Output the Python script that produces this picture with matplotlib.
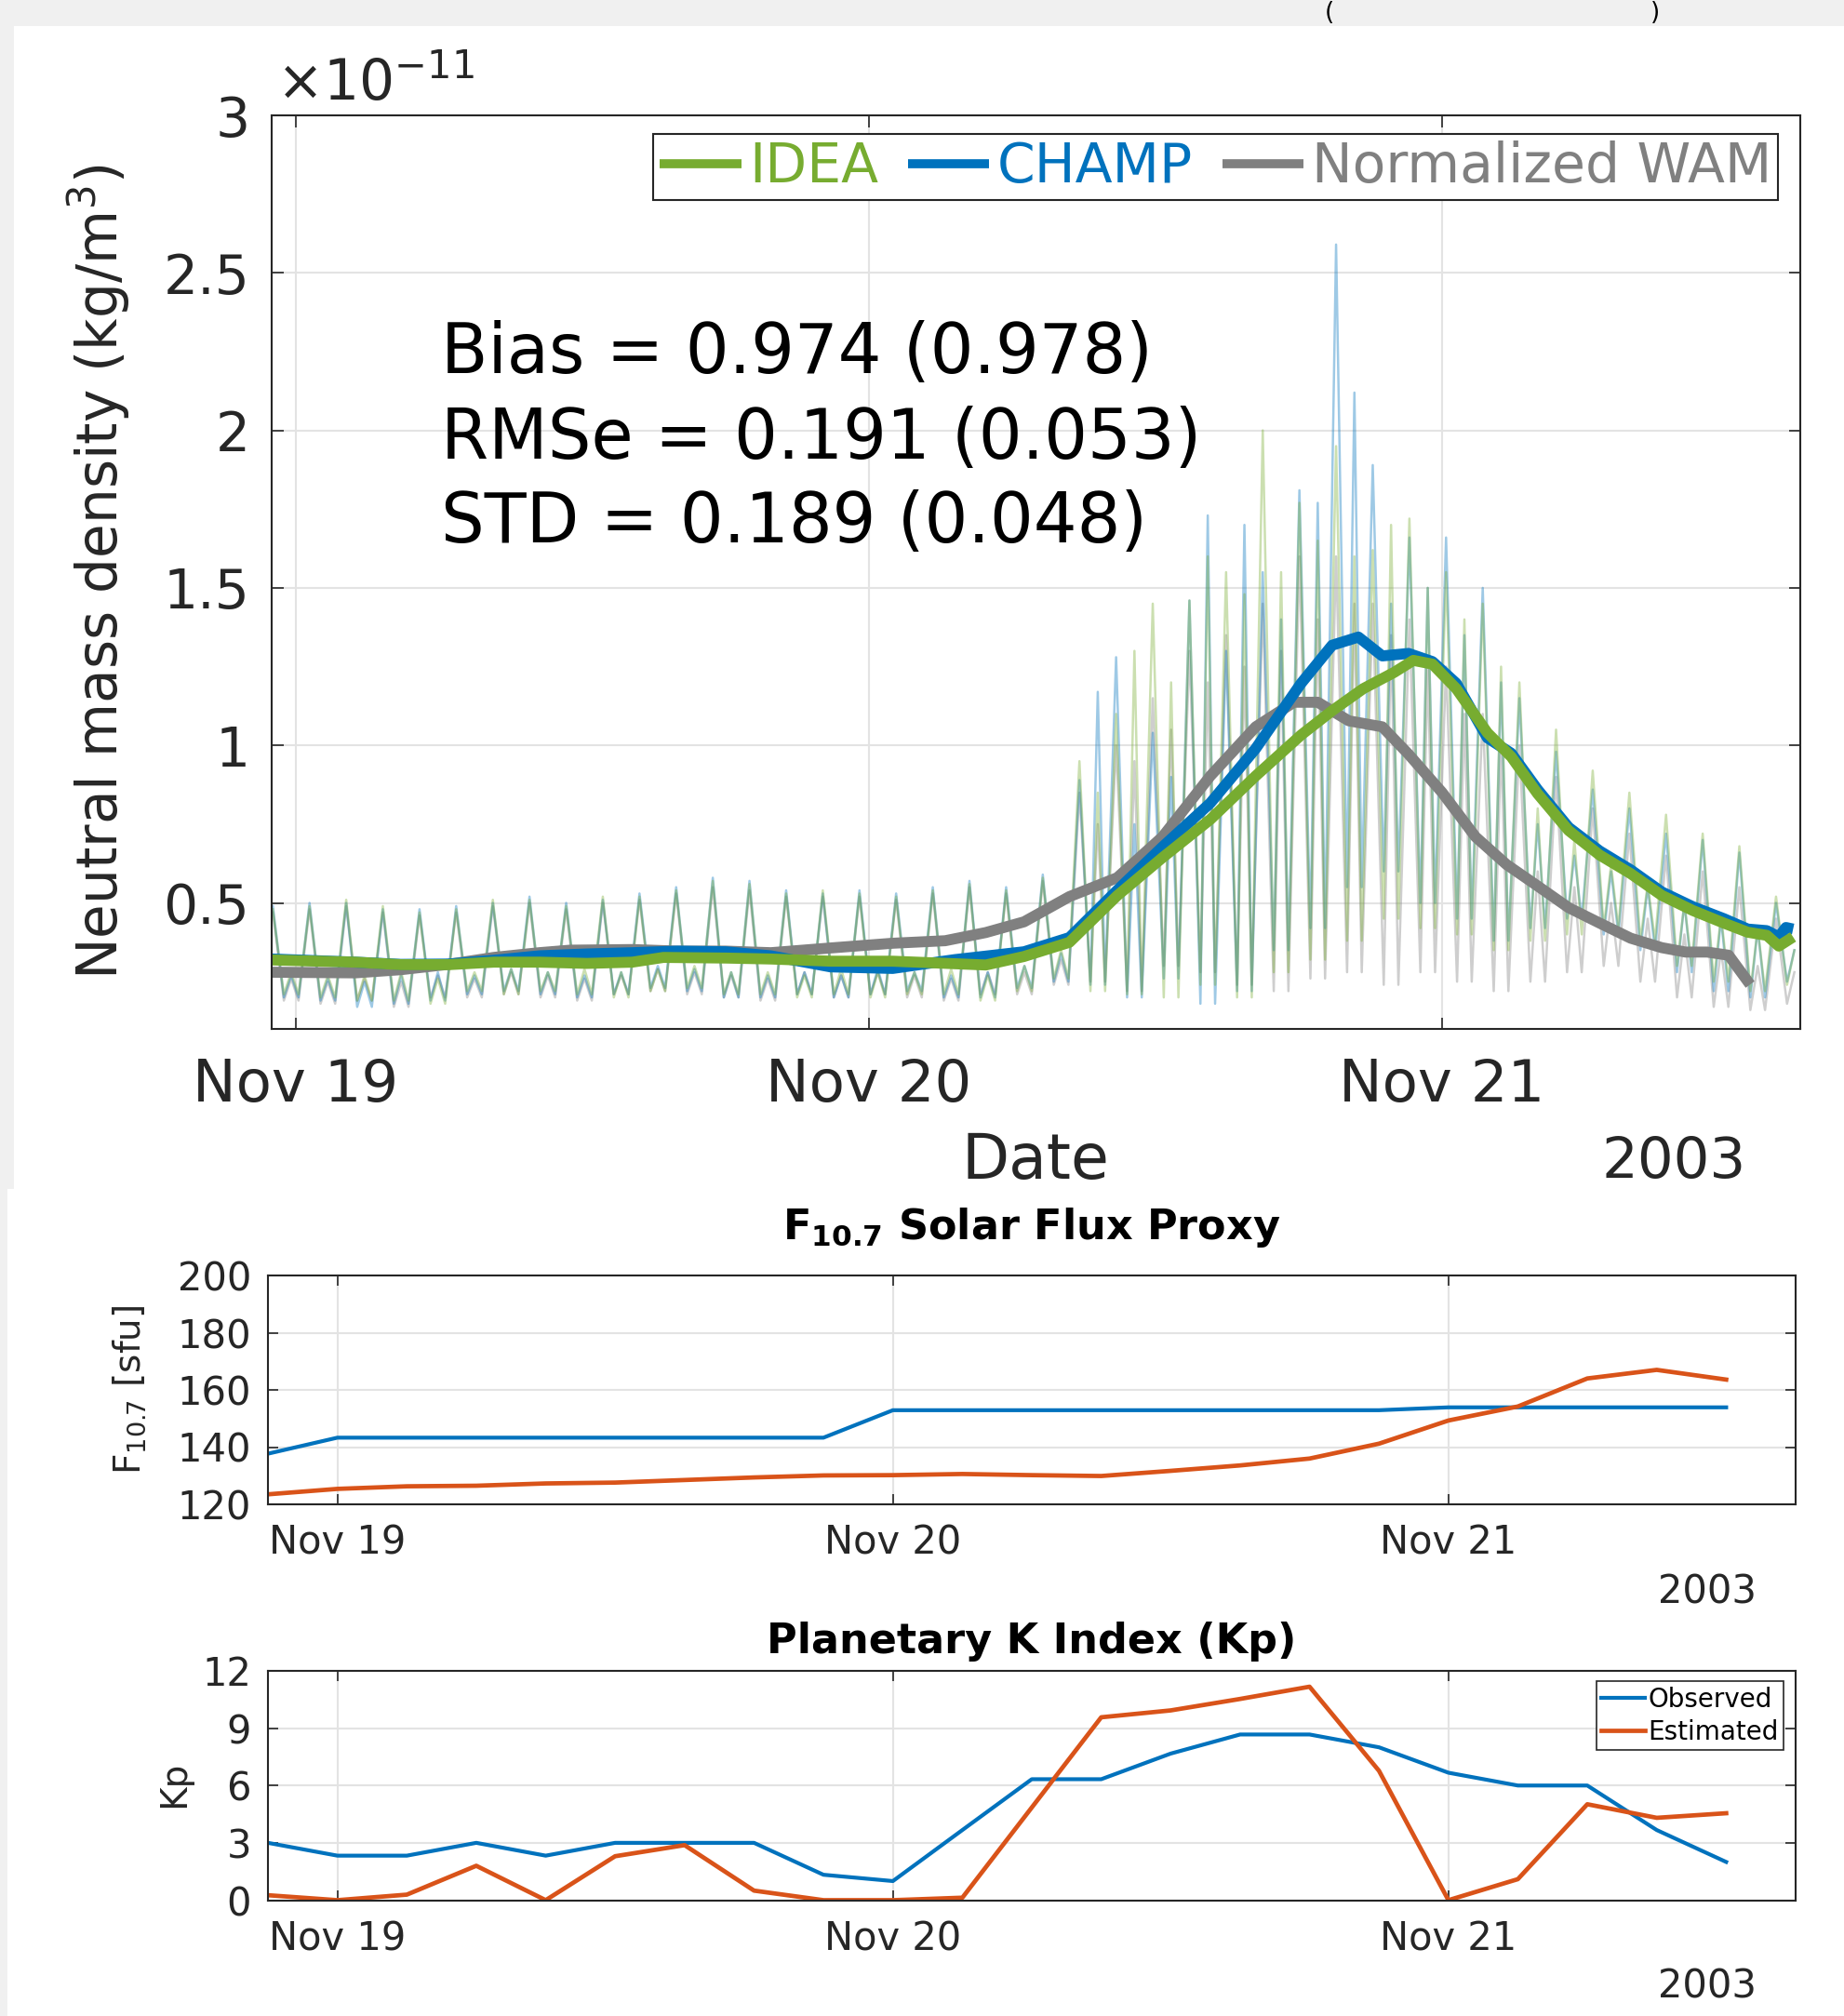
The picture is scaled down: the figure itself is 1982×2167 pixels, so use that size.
import numpy as np
import matplotlib
matplotlib.use('Agg')
import matplotlib.pyplot as plt
import matplotlib.dates as mdates
from matplotlib.patches import Rectangle
from matplotlib.ticker import FuncFormatter
from datetime import datetime, timedelta

plt.rcParams['font.family'] = ['DejaVu Sans']
plt.rcParams['mathtext.fontset'] = 'dejavusans'

W, H = 1983, 2167
start = datetime(2003, 11, 19)

# ---------------- top panel data (density, units of 1e-11 kg/m^3) ----------------
# one orbit ~1.535 h, first peak at -0.95 h from Nov 19 00:00
orbit_period = 1.535
first_peak = -0.95

# per orbit: main peak, the two minima, and the bump between them
champ_peaks = [0.49, 0.50, 0.50, 0.48, 0.48, 0.49, 0.50, 0.52, 0.50, 0.51, 0.53, 0.55, 0.58, 0.57,
               0.54, 0.53, 0.54, 0.53, 0.55, 0.57, 0.55, 0.59,
               0.89, 1.28, 1.04, 1.46, 1.30, 1.55, 1.81, 2.59, 1.89, 1.66, 1.66, 1.50,
               1.15, 0.98, 0.86, 0.80, 0.72, 0.70, 0.66, 0.50]
champ_troughs = [0.20, 0.19, 0.17, 0.18, 0.19, 0.21, 0.22, 0.21, 0.20, 0.21, 0.23, 0.22, 0.20, 0.20,
                 0.21, 0.20, 0.21, 0.22, 0.20, 0.20, 0.23, 0.25,
                 0.24, 0.20, 0.26, 0.18, 0.22, 0.35, 0.42, 0.55, 0.60, 0.50, 0.45, 0.38,
                 0.42, 0.45, 0.40, 0.35, 0.28, 0.22, 0.20, 0.25]
champ_bumps = [0.27, 0.26, 0.25, 0.27, 0.28, 0.27, 0.29, 0.28, 0.27, 0.28, 0.30, 0.29, 0.28, 0.27,
               0.28, 0.27, 0.29, 0.28, 0.27, 0.28, 0.30, 0.34,
               1.17, 0.75, 0.90, 1.73, 1.70, 1.40, 1.77, 2.12, 1.45, 1.50, 1.35, 1.20,
               0.75, 0.65, 0.60, 0.55, 0.50, 0.45, 0.42, 0.35]
idea_peaks = [0.48, 0.49, 0.51, 0.49, 0.47, 0.48, 0.51, 0.51, 0.49, 0.52, 0.52, 0.54, 0.57, 0.56,
              0.53, 0.54, 0.53, 0.52, 0.54, 0.56, 0.54, 0.58,
              0.95, 1.10, 1.45, 1.46, 1.55, 2.00, 1.77, 1.95, 1.62, 1.72, 1.55, 1.45,
              1.20, 1.05, 0.92, 0.85, 0.78, 0.72, 0.68, 0.52]
idea_troughs = [0.21, 0.20, 0.19, 0.19, 0.18, 0.22, 0.21, 0.22, 0.21, 0.20, 0.22, 0.23, 0.21, 0.21,
                0.20, 0.21, 0.20, 0.21, 0.21, 0.19, 0.22, 0.26,
                0.22, 0.21, 0.20, 0.24, 0.20, 0.28, 0.32, 0.38, 0.45, 0.42, 0.40, 0.35,
                0.38, 0.40, 0.42, 0.38, 0.30, 0.25, 0.22, 0.24]
idea_bumps = [0.28, 0.27, 0.27, 0.28, 0.26, 0.28, 0.29, 0.28, 0.29, 0.28, 0.29, 0.30, 0.28, 0.28,
              0.27, 0.29, 0.28, 0.28, 0.29, 0.27, 0.30, 0.35,
              0.85, 1.30, 1.20, 1.60, 1.48, 1.55, 1.65, 1.60, 1.70, 1.50, 1.40, 1.25,
              0.80, 0.70, 0.62, 0.56, 0.50, 0.46, 0.42, 0.35]
wam_peaks = [0.47, 0.48, 0.49, 0.47, 0.46, 0.47, 0.49, 0.50, 0.48, 0.50, 0.51, 0.53, 0.55, 0.54,
             0.52, 0.52, 0.52, 0.51, 0.53, 0.55, 0.53, 0.57,
             0.85, 1.00, 1.15, 1.30, 1.35, 1.45, 1.60, 1.60, 1.45, 1.40, 1.25, 1.10,
             1.00, 0.90, 0.80, 0.72, 0.65, 0.60, 0.55, 0.45]
wam_troughs = [0.19, 0.18, 0.19, 0.17, 0.20, 0.20, 0.21, 0.20, 0.19, 0.21, 0.22, 0.21, 0.20, 0.19,
               0.21, 0.20, 0.21, 0.20, 0.19, 0.21, 0.21, 0.24,
               0.25, 0.22, 0.30, 0.28, 0.24, 0.22, 0.26, 0.28, 0.24, 0.28, 0.25, 0.22,
               0.25, 0.28, 0.30, 0.25, 0.20, 0.17, 0.16, 0.18]
wam_bumps = [0.26, 0.25, 0.26, 0.25, 0.27, 0.26, 0.28, 0.27, 0.26, 0.27, 0.29, 0.28, 0.27, 0.26,
             0.28, 0.27, 0.28, 0.27, 0.26, 0.28, 0.28, 0.32,
             0.75, 0.95, 1.05, 1.20, 1.25, 1.30, 1.40, 1.45, 1.35, 1.25, 1.10, 1.00,
             0.60, 0.55, 0.50, 0.45, 0.40, 0.35, 0.30, 0.28]

# smoothed curves (hours from Nov 19 00:00, value)
idea_hours = [-1, 2.5, 4.4, 6.4, 8.3, 10.2, 12.2, 14.1, 15.4, 18.0, 19.9, 22.4, 25.0, 27.6, 28.9,
              30.5, 32.4, 34.4, 36.3, 38.3, 40.2, 42.1, 43.4, 44.7, 46.0, 46.8, 47.6, 48.6, 49.9,
              50.9, 52.0, 53.3, 54.6, 55.9, 57.2, 58.5, 59.8, 60.8, 61.6, 62.1, 62.7]
idea_smooth = [0.319, 0.312, 0.304, 0.304, 0.312, 0.312, 0.308, 0.312, 0.327, 0.325, 0.322, 0.315,
               0.315, 0.307, 0.303, 0.330, 0.375, 0.523, 0.644, 0.765, 0.903, 1.033, 1.110, 1.180,
               1.232, 1.270, 1.258, 1.180, 1.040, 0.964, 0.847, 0.730, 0.652, 0.593, 0.524, 0.476,
               0.436, 0.407, 0.397, 0.363, 0.392]
champ_hours = [-1, 2.5, 4.4, 6.4, 8.3, 10.2, 12.2, 14.1, 16.0, 18.0, 19.9, 22.4, 25.0, 27.6,
               30.5, 32.4, 34.4, 36.3, 38.3, 40.2, 42.1, 43.4, 44.5, 45.5, 46.6, 47.6, 48.6, 49.9,
               50.9, 52.0, 53.3, 54.6, 55.9, 57.2, 58.5, 59.8, 60.8, 61.6, 62.1, 62.4, 62.7]
champ_smooth = [0.322, 0.312, 0.305, 0.306, 0.318, 0.332, 0.338, 0.342, 0.347, 0.345, 0.332, 0.297,
                0.292, 0.320, 0.345, 0.390, 0.540, 0.678, 0.817, 0.990, 1.197, 1.318, 1.344, 1.284,
                1.292, 1.266, 1.197, 1.024, 0.975, 0.860, 0.740, 0.665, 0.605, 0.535, 0.488, 0.450,
                0.417, 0.412, 0.392, 0.422, 0.417]
wam_hours = [-1, 2.5, 4.4, 6.4, 8.3, 10.2, 11.5, 14.1, 16.0, 18.0, 19.9, 22.4, 25.0, 27.2, 28.9,
             30.5, 32.4, 34.4, 36.3, 38.3, 40.2, 41.8, 42.8, 44.1, 45.5, 46.6, 48.0, 49.4, 50.7,
             52.0, 53.3, 54.6, 55.9, 57.2, 58.2, 59.1, 60.0, 60.9]
wam_smooth = [0.280, 0.278, 0.288, 0.305, 0.327, 0.342, 0.350, 0.352, 0.347, 0.347, 0.342, 0.357,
              0.372, 0.380, 0.406, 0.440, 0.520, 0.580, 0.710, 0.903, 1.059, 1.137, 1.137, 1.078,
              1.059, 0.972, 0.851, 0.710, 0.622, 0.554, 0.485, 0.436, 0.388, 0.358, 0.344, 0.344,
              0.334, 0.241]

stats = ['Bias = 0.974 (0.978)', 'RMSe = 0.191 (0.053)', 'STD = 0.189 (0.048)']

# ---------------- bottom panels (3-hourly, from Nov 18 21:00) ----------------
index_hours = [-3, 0, 3, 6, 9, 12, 15, 18, 21, 24, 27, 30, 33, 36, 39, 42, 45, 48, 51, 54, 57, 60]
f107_obs = [137.7, 143.3, 143.3, 143.3, 143.3, 143.3, 143.3, 143.3, 143.3, 152.9, 152.9, 152.9,
            152.9, 152.9, 152.9, 152.9, 152.9, 153.9, 153.9, 153.9, 153.9, 153.9]
f107_est = [123.5, 125.4, 126.3, 126.5, 127.3, 127.6, 128.5, 129.4, 130.1, 130.2, 130.6, 130.2,
            129.9, 131.7, 133.6, 136.0, 141.2, 149.3, 154.2, 164.0, 167.0, 163.6]
kp_obs = [3.0, 2.33, 2.33, 3.0, 2.33, 3.0, 3.0, 3.0, 1.33, 1.0, 3.67, 6.33, 6.33, 7.67, 8.67,
          8.67, 8.0, 6.67, 6.0, 6.0, 3.67, 2.0]
kp_est = [0.26, 0.0, 0.29, 1.8, 0.0, 2.3, 2.88, 0.5, 0.0, 0.0, 0.13, 4.85, 9.57, 9.93, 10.53,
          11.17, 6.77, 0.0, 1.1, 5.02, 4.31, 4.55]

c_idea, c_champ, c_wam = '#77AC30', '#0072BD', '#808080'
c_obs, c_est = '#0072BD', '#D95319'
spine_c = '#262626'
grid_c = '#e3e3e3'


def when(hours):
    return [start + timedelta(hours=float(h)) for h in hours]


def orbit_track(peaks, troughs, bumps):
    # peak -> minimum -> bump -> minimum, once per orbit
    k = np.arange(len(peaks))
    base = first_peak + orbit_period * k
    t = np.empty(4 * len(peaks))
    v = np.empty(4 * len(peaks))
    for j, (frac, vals) in enumerate([(0.0, peaks), (0.3, troughs), (0.5, bumps), (0.7, troughs)]):
        t[j::4] = base + frac * orbit_period
        v[j::4] = vals
    keep = t <= 63
    return when(t[keep]), v[keep]


def style_axes(ax, fs_x, fs_y, pad_x, pad_y, tick_len):
    for s in ax.spines.values():
        s.set_color(spine_c)
        s.set_linewidth(1.5)
    ax.tick_params(direction='in', top=True, right=True, length=tick_len, width=1.2,
                   colors=spine_c)
    ax.tick_params(axis='x', labelsize=fs_x, pad=pad_x, labelcolor='#262626')
    ax.tick_params(axis='y', labelsize=fs_y, pad=pad_y, labelcolor='#262626')
    ax.grid(True, color=grid_c, linewidth=1.5)
    ax.set_axisbelow(True)
    ax.xaxis.set_major_locator(mdates.DayLocator())
    ax.xaxis.set_major_formatter(mdates.DateFormatter('%b %d'))


def px(x, y):
    return x / W, 1 - y / H


fig = plt.figure(figsize=(W / 100, H / 100), dpi=100)
fig.patch.set_facecolor('white')
fig.add_artist(Rectangle((0, 1 - 28 / H), 1, 28 / H, transform=fig.transFigure,
                         facecolor='#f0f0f0', edgecolor='none', zorder=-5))
fig.add_artist(Rectangle((0, 1 - 1278 / H), 15 / W, 1278 / H, transform=fig.transFigure,
                         facecolor='#f0f0f0', edgecolor='none', zorder=-5))
fig.add_artist(Rectangle((0, 0), 8 / W, 1 - 1278 / H, transform=fig.transFigure,
                         facecolor='#f0f0f0', edgecolor='none', zorder=-5))
# the brackets of the title above, kept inside the grey band
fig.text(*px(1424, 21), '(', fontsize=19, va='baseline', ha='left')
fig.text(*px(1774, 21), ')', fontsize=19, va='baseline', ha='left')

# ---------------- density panel ----------------
ax = fig.add_axes([292 / W, 1 - 1106 / H, 1643 / W, 982 / H])
for pk, tr, bp, c in [(wam_peaks, wam_troughs, wam_bumps, c_wam),
                      (champ_peaks, champ_troughs, champ_bumps, c_champ),
                      (idea_peaks, idea_troughs, idea_bumps, c_idea)]:
    t, v = orbit_track(pk, tr, bp)
    ax.plot(t, v, color=c, lw=1.8, alpha=0.38)

l_wam, = ax.plot(when(wam_hours), wam_smooth, color=c_wam, lw=8.5, solid_capstyle='butt')
l_champ, = ax.plot(when(champ_hours), champ_smooth, color=c_champ, lw=8.5, solid_capstyle='butt')
l_idea, = ax.plot(when(idea_hours), idea_smooth, color=c_idea, lw=8.5, solid_capstyle='butt')

ax.set_xlim(start - timedelta(hours=1), start + timedelta(hours=63))
ax.set_ylim(0.1, 3)
ax.set_yticks([0.5, 1, 1.5, 2, 2.5, 3])
ax.yaxis.set_major_formatter(FuncFormatter(lambda v, p: f'{v:g}'))
style_axes(ax, 45, 42, 22, 17, 9)

leg = ax.legend([l_idea, l_champ, l_wam], ['IDEA', 'CHAMP', 'Normalized WAM'],
                loc='upper right', bbox_to_anchor=((1911 - 292) / 1643, (1106 - 144) / 982),
                borderaxespad=0, ncol=3, fontsize=42, handlelength=1.5, handletextpad=0.14,
                columnspacing=0.55, borderpad=0.12, fancybox=False, framealpha=1,
                edgecolor=spine_c, labelcolor='linecolor')
leg.get_frame().set_linewidth(1.5)
for h in leg.legend_handles:
    h.set_linewidth(7)

for s, yb in zip(stats, [401, 493, 583]):
    ax.text((474 - 292) / 1643, (1106 - yb) / 982, s, transform=ax.transAxes,
            fontsize=53, va='baseline', ha='left', color='black')

fig.text(*px(297, 108), r'$\times10^{-11}$', fontsize=43, va='baseline', ha='left',
         color='#262626')
fig.text(*px(106, 615), r'Neutral mass density (kg/m$^3$)', fontsize=43, rotation=90,
         ha='center', va='center', color='#262626')
fig.text(*px(1113, 1267), 'Date', fontsize=48, ha='center', va='baseline', color='#262626')
fig.text(*px(1877, 1266), '2003', fontsize=44, ha='right', va='baseline', color='#262626')

# ---------------- F10.7 panel ----------------
ax2 = fig.add_axes([288 / W, 1 - 1617 / H, 1642 / W, 246 / H])
ax2.plot(when(index_hours), f107_obs, color=c_obs, lw=3.0)
ax2.plot(when(index_hours), f107_est, color=c_est, lw=3.4)
ax2.set_xlim(start - timedelta(hours=3), start + timedelta(hours=63))
ax2.set_ylim(120, 200)
ax2.set_yticks([120, 140, 160, 180, 200])
style_axes(ax2, 30, 30, 15, 13, 8)
ax2.set_title(r'$\mathbf{F}_{\mathbf{10.7}}$ Solar Flux Proxy', fontsize=32, fontweight='bold',
              pad=28)
fig.text(*px(139, 1494), r'F$_{10.7}$ [sfu]', fontsize=28, rotation=90, ha='center',
         va='center', color='#262626')
fig.text(*px(1888, 1723), '2003', fontsize=30, ha='right', va='baseline', color='#262626')

# ---------------- Kp panel ----------------
ax3 = fig.add_axes([288 / W, 1 - 2042.5 / H, 1642 / W, 246.5 / H])
ax3.plot(when(index_hours), kp_obs, color=c_obs, lw=3.0, label='Observed')
ax3.plot(when(index_hours), kp_est, color=c_est, lw=3.4, label='Estimated')
ax3.set_xlim(start - timedelta(hours=3), start + timedelta(hours=63))
ax3.set_ylim(0, 12)
ax3.set_yticks([0, 3, 6, 9, 12])
style_axes(ax3, 30, 30, 15, 13, 8)
ax3.set_title('Planetary K Index (Kp)', fontsize=32, fontweight='bold', pad=14)
leg3 = ax3.legend(loc='upper right', bbox_to_anchor=((1917 - 288) / 1642, (2042.5 - 1807) / 246.5),
                  borderaxespad=0, fontsize=20, handlelength=1.7, handletextpad=0.1,
                  labelspacing=0.25, borderpad=0.2, fancybox=False, framealpha=1,
                  edgecolor=spine_c)
leg3.get_frame().set_linewidth(1.2)
fig.text(*px(187, 1918), 'Kp', fontsize=28, rotation=90, ha='center', va='center',
         color='#262626')
fig.text(*px(1888, 2147), '2003', fontsize=30, ha='right', va='baseline', color='#262626')

fig.savefig('out.png', dpi=100, facecolor=fig.get_facecolor())
